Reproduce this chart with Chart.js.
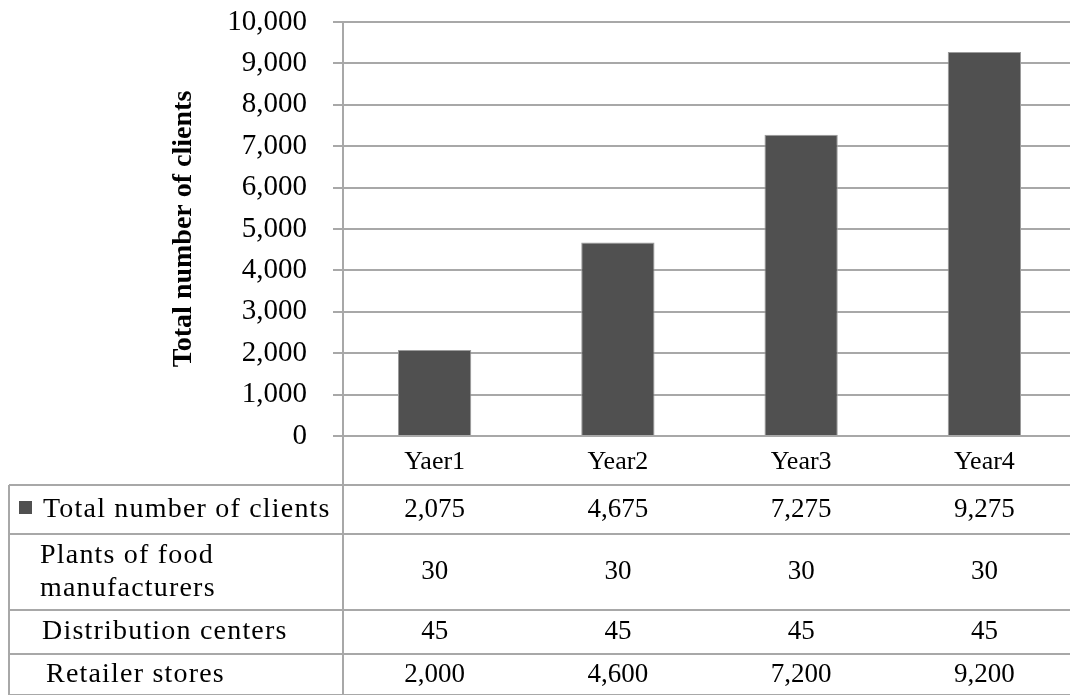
<!DOCTYPE html>
<html>
<head>
<meta charset="utf-8">
<script src="https://cdn.jsdelivr.net/npm/chart.js"></script>
<style>
    html, body { margin: 0; padding: 0; overflow: hidden; background: #fff; }
    canvas { display: block; }
</style>
</head>
<body>
<canvas id="clientsChart" width="1080" height="695"></canvas>
<script>
// chart data
const categories = ['Yaer1', 'Year2', 'Year3', 'Year4'];
const totalClients = [2075, 4675, 7275, 9275];
const plantsOfFood = [30, 30, 30, 30];
const distributionCenters = [45, 45, 45, 45];
const retailerStores = [2000, 4600, 7200, 9200];
const rowLabels = [
    ['Total number of clients'],
    ['Plants of food', 'manufacturers'],
    ['Distribution centers'],
    ['Retailer stores']
];

const serif = '"Liberation Serif", "Times New Roman", serif';
const lineColor = '#a8a8a8';
const barColor = '#505050';

function fmt(v) {
    return v.toLocaleString('en-US');
}

// draws the data table under the x axis
const dataTable = {
    id: 'dataTable',
    afterDraw(chart) {
        const ctx = chart.ctx;
        const x = chart.scales.x;
        const area = chart.chartArea;
        const left = 9;
        const right = chart.width;
        const rowLines = [485, 534, 610, 654, 695];
        const rows = [totalClients, plantsOfFood, distributionCenters, retailerStores];
        const labelX = [43, 40, 42, 46];

        ctx.save();
        ctx.strokeStyle = lineColor;
        ctx.lineWidth = 2;
        ctx.beginPath();
        rowLines.forEach(y => {
            ctx.moveTo(left, y);
            ctx.lineTo(right, y);
        });
        ctx.moveTo(left, rowLines[0]);
        ctx.lineTo(left, 695);
        ctx.moveTo(area.left, area.bottom);
        ctx.lineTo(area.left, 695);
        ctx.stroke();

        // category labels
        ctx.fillStyle = '#000';
        ctx.textAlign = 'center';
        ctx.textBaseline = 'middle';
        ctx.font = '26px ' + serif;
        categories.forEach((c, i) => {
            ctx.fillText(c, x.getPixelForValue(i), 462);
        });

        // values
        ctx.font = '27px ' + serif;
        rows.forEach((vals, r) => {
            const yc = (rowLines[r] + rowLines[r + 1]) / 2;
            vals.forEach((v, i) => {
                ctx.fillText(fmt(v), x.getPixelForValue(i), yc);
            });
        });

        // row labels
        ctx.textAlign = 'left';
        ctx.font = '28px ' + serif;
        ctx.letterSpacing = '1.2px';
        rowLabels.forEach((lines, r) => {
            const yc = (rowLines[r] + rowLines[r + 1]) / 2;
            lines.forEach((t, k) => {
                const y = yc + (k - (lines.length - 1) / 2) * 33;
                ctx.fillText(t, labelX[r], y);
            });
        });
        ctx.letterSpacing = '0px';

        // legend key for the bar series
        ctx.fillStyle = barColor;
        ctx.fillRect(19, 501, 13, 13);
        ctx.restore();
    }
};

const ctx = document.getElementById('clientsChart').getContext('2d');
new Chart(ctx, {
    type: 'bar',
    data: {
        labels: categories,
        datasets: [{
            label: 'Total number of clients',
            data: totalClients,
            backgroundColor: barColor,
            borderColor: '#9c9c9c',
            borderWidth: 1,
            categoryPercentage: 1,
            barPercentage: 0.4
        }]
    },
    options: {
        responsive: false,
        animation: false,
        layout: { padding: { top: 22, right: 4, left: 0, bottom: 0 } },
        plugins: {
            legend: { display: false },
            tooltip: { enabled: false }
        },
        scales: {
            x: {
                afterFit: scale => { scale.height = 259; },
                ticks: { display: false },
                grid: { display: false },
                border: { display: true, color: lineColor, width: 2 }
            },
            y: {
                min: 0,
                max: 10000,
                afterFit: scale => {
                    scale.width = 343;
                    scale.paddingTop = 0;
                    scale.paddingBottom = 0;
                },
                ticks: {
                    stepSize: 1000,
                    padding: 26,
                    color: '#000',
                    font: { family: serif, size: 29 },
                    callback: v => fmt(v)
                },
                grid: { color: lineColor, lineWidth: 2, tickLength: 10 },
                border: { color: lineColor, width: 2 },
                title: {
                    display: true,
                    text: 'Total number of clients',
                    color: '#000',
                    font: { family: serif, size: 28, weight: 'bold' },
                    padding: { top: 167, bottom: 0 }
                }
            }
        }
    },
    plugins: [dataTable]
});
</script>
</body>
</html>
